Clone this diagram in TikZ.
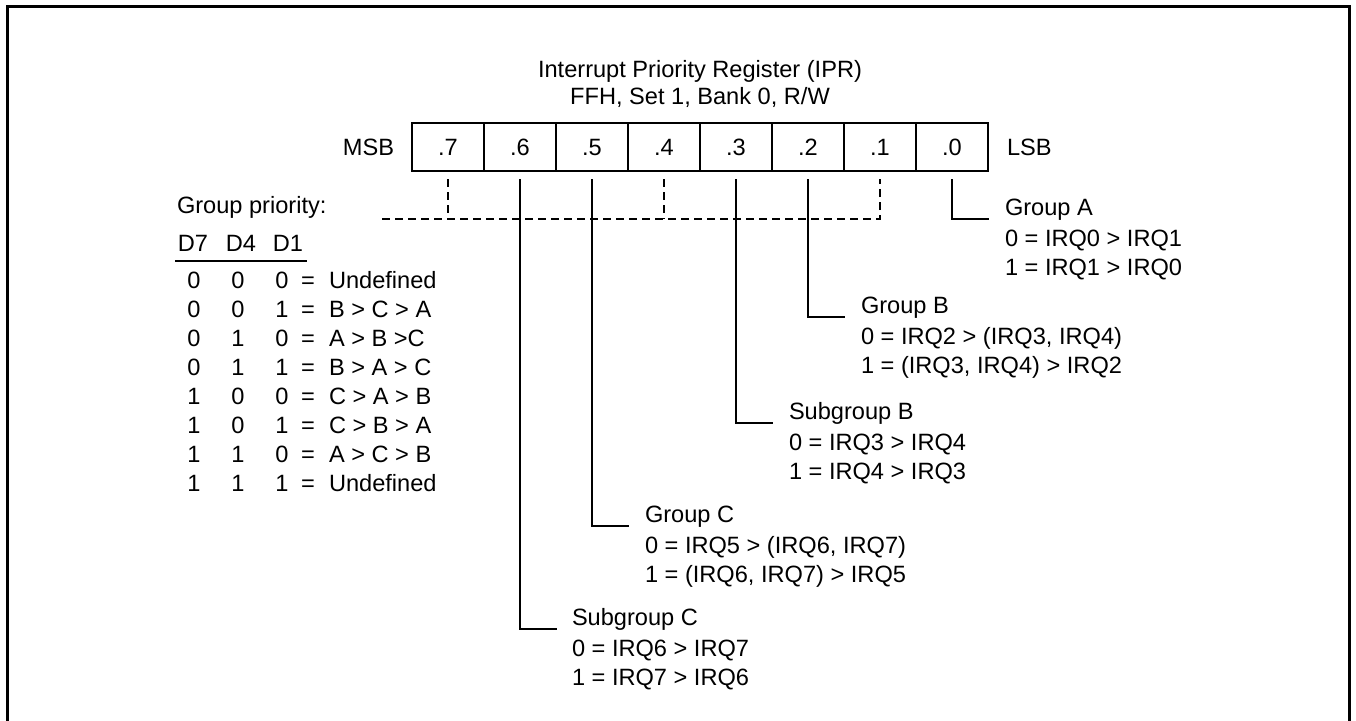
\documentclass[tikz,border=0pt]{standalone}
\usepackage{fontspec}
\setmainfont{Liberation Sans}
\begin{document}
\begin{tikzpicture}[x=0.5pt,y=-0.5pt,
  every node/.style={font=\fontsize{11.8}{14}\selectfont, inner sep=0pt, outer sep=0pt},
  cell/.style={draw, line width=1pt, minimum width=36pt, minimum height=24pt},
  txt/.style={anchor=base west},
  ctr/.style={anchor=base},
  conn/.style={line width=1pt},
  dashline/.style={line width=1pt, dash pattern=on 4pt off 2.5pt}]
\useasboundingbox (0,0) rectangle (1356,720);
\clip (0,0) rectangle (1356,720);
\draw[line width=1.4pt] (7.5,6.5) rectangle (1349.5,760);

% title
\node[ctr] (t1) at (700,77) {Interrupt Priority Register (IPR)};
\node[ctr] (t2) at (700,104) {FFH, Set 1, Bank 0, R/W};

% register cells
\foreach \b in {7,...,0} {\node[cell] (c\b) at ({448+(7-\b)*72},147) {.\b};}
\node[anchor=east] (msb) at (394,147) {MSB};
\node[anchor=west] (lsb) at (1007,147) {LSB};

% dashed group-priority lines
\coordinate (dl) at (382,219);
\draw[dashline] (dl) -- (c1.south |- dl) -- ([yshift=-4pt]c1.south);
\draw[dashline] ([yshift=-4pt]c7.south) -- (c7.south |- dl);
\draw[dashline] ([yshift=-4pt]c4.south) -- (c4.south |- dl);

% Group A (bit 0)
\coordinate (eA) at (989,219);
\draw[conn] ([yshift=-4pt]c0.south) |- (eA);
\node[txt] (gA) at (1005,215.5) {Group A};
\node[txt] (gA0) at (1005,246) {0 = IRQ0 > IRQ1};
\node[txt] (gA1) at (1005,275) {1 = IRQ1 > IRQ0};

% Group B (bit 2)
\coordinate (eB) at (845,317);
\draw[conn] ([yshift=-4pt]c2.south) |- (eB);
\node[txt] (gB) at (861,313.5) {Group B};
\node[txt] (gB0) at (861,344) {0 = IRQ2 > (IRQ3, IRQ4)};
\node[txt] (gB1) at (861,373) {1 = (IRQ3, IRQ4) > IRQ2};

% Subgroup B (bit 3)
\coordinate (eSB) at (773,423);
\draw[conn] ([yshift=-4pt]c3.south) |- (eSB);
\node[txt] (sB) at (789,419.5) {Subgroup B};
\node[txt] (sB0) at (789,450) {0 = IRQ3 > IRQ4};
\node[txt] (sB1) at (789,479) {1 = IRQ4 > IRQ3};

% Group C (bit 5)
\coordinate (eC) at (629,526);
\draw[conn] ([yshift=-4pt]c5.south) |- (eC);
\node[txt] (gC) at (645,522.5) {Group C};
\node[txt] (gC0) at (645,553) {0 = IRQ5 > (IRQ6, IRQ7)};
\node[txt] (gC1) at (645,582) {1 = (IRQ6, IRQ7) > IRQ5};

% Subgroup C (bit 6)
\coordinate (eSC) at (557,629);
\draw[conn] ([yshift=-4pt]c6.south) |- (eSC);
\node[txt] (sC) at (572,625.5) {Subgroup C};
\node[txt] (sC0) at (572,656) {0 = IRQ6 > IRQ7};
\node[txt] (sC1) at (572,685) {1 = IRQ7 > IRQ6};

% group priority table
\node[txt] (gp) at (177,213.5) {Group priority:};
\node[ctr] (h7) at (193,251.5) {D7};
\node[ctr] (h4) at (241,251.5) {D4};
\node[ctr] (h1) at (288,251.5) {D1};
\draw[line width=1pt] (175,261) -- (307,261);
\foreach \a/\bb/\c/\t [count=\i] in {0/0/0/Undefined, 0/0/1/B > C > A, 0/1/0/A > B >C, 0/1/1/B > A > C, 1/0/0/C > A > B, 1/0/1/C > B > A, 1/1/0/A > C > B, 1/1/1/Undefined} {
  \node[ctr] (ra\i) at (194,{288.5+(\i-1)*29}) {\a};
  \node[ctr] (rb\i) at (238,{288.5+(\i-1)*29}) {\bb};
  \node[ctr] (rc\i) at (282,{288.5+(\i-1)*29}) {\c};
  \node[ctr] (re\i) at (308,{288.5+(\i-1)*29}) {=};
  \node[txt] (rt\i) at (329,{288.5+(\i-1)*29}) {\t};
}
\end{tikzpicture}
\end{document}
